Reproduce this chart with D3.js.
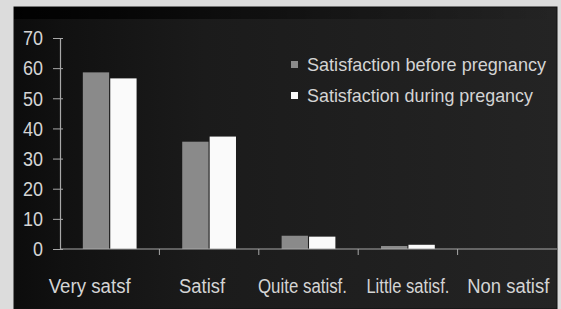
<!DOCTYPE html>
<html>
<head>
<meta charset="utf-8">
<script src="https://cdn.jsdelivr.net/npm/d3@7/dist/d3.min.js"></script>
<style>
  html, body { margin: 0; padding: 0; background: #dcdcdc; }
  svg { display: block; }
  text { font-family: "Liberation Sans", Arial, sans-serif; fill: #d4d4d4; }
</style>
</head>
<body>
<svg id="chart" width="561" height="309"></svg>
<script>
const categories = ["Very satsf", "Satisf", "Quite satisf.", "Little satisf.", "Non satisf"];
const seriesNames = ["Satisfaction before pregnancy", "Satisfaction during pregancy"];
const beforeValues = [58.6, 35.6, 4.4, 1.0, 0];
const duringValues = [56.6, 37.3, 4.1, 1.4, 0];
const yTicks = [0, 10, 20, 30, 40, 50, 60, 70];

const svg = d3.select("#chart");
const W = 561, H = 309;

// panel background
const defs = svg.append("defs");
const g1 = defs.append("linearGradient").attr("id", "bgH").attr("x1", 0).attr("x2", 1).attr("y1", 0).attr("y2", 0);
g1.append("stop").attr("offset", "0").attr("stop-color", "#0c0c0c");
g1.append("stop").attr("offset", "0.09").attr("stop-color", "#111");
g1.append("stop").attr("offset", "0.35").attr("stop-color", "#1b1b1b");
g1.append("stop").attr("offset", "1").attr("stop-color", "#242424");
const g2 = defs.append("linearGradient").attr("id", "bgTop").attr("x1", 0).attr("x2", 1).attr("y1", 0).attr("y2", 0);
g2.append("stop").attr("offset", "0").attr("stop-color", "#000").attr("stop-opacity", 0.9);
g2.append("stop").attr("offset", "0.6").attr("stop-color", "#000").attr("stop-opacity", 0.3);
g2.append("stop").attr("offset", "1").attr("stop-color", "#000").attr("stop-opacity", 0);

svg.append("rect").attr("x", 14).attr("y", 7).attr("width", 543).attr("height", H - 7)
  .attr("fill", "url(#bgH)").attr("stroke", "#111").attr("stroke-width", 1);
svg.append("rect").attr("x", 14).attr("y", 7).attr("width", 543).attr("height", 12)
  .attr("fill", "url(#bgTop)");

const margin = { left: 60, right: 557, top: 38, bottom: 249 };

const y = d3.scaleLinear().domain([0, 70]).range([margin.bottom, margin.top]);
const x0 = d3.scaleBand().domain(categories).range([margin.left, margin.right])
  .paddingInner(0.437).paddingOuter(0.2185);
const x1 = d3.scaleBand().domain(seriesNames).range([0, x0.bandwidth()]).padding(0.04);
const color = d3.scaleOrdinal().domain(seriesNames).range(["#8a8a8a", "#fafafa"]);

const data = categories.map((c, i) => ({ cat: c, vals: [beforeValues[i], duringValues[i]] }));

// bars
const groups = svg.append("g").selectAll("g").data(data).join("g")
  .attr("transform", d => `translate(${x0(d.cat)},0)`);
groups.selectAll("rect").data(d => d.vals.map((v, k) => ({ name: seriesNames[k], v })))
  .join("rect")
  .attr("x", d => x1(d.name))
  .attr("width", x1.bandwidth())
  .attr("y", d => y(d.v))
  .attr("height", d => y(0) - y(d.v))
  .attr("fill", d => color(d.name));

// y axis
const yAxis = d3.axisLeft(y).tickValues(yTicks).tickSize(7).tickSizeInner(7).tickPadding(10);
const yg = svg.append("g").attr("transform", `translate(${margin.left},0)`).call(yAxis);
yg.select(".domain").attr("stroke", "#a8a8a8").attr("stroke-width", 1.2);
yg.selectAll(".tick line").attr("stroke", "#a8a8a8").attr("x1", 3);
yg.selectAll(".tick text").attr("font-size", 20).attr("fill", "#d4d4d4")
  .attr("font-family", "'Liberation Sans Narrow', 'Liberation Sans', Arial, sans-serif")
  .attr("dy", "0.34em")
  .each(function(d) {
    const w = String(d).length * 10;
    d3.select(this).attr("textLength", w).attr("lengthAdjust", "spacingAndGlyphs");
  });

// x axis baseline and boundary ticks
const xg = svg.append("g");
xg.append("line").attr("x1", margin.left).attr("x2", margin.right)
  .attr("y1", y(0)).attr("y2", y(0)).attr("stroke", "#a8a8a8").attr("stroke-width", 1.2);
const bounds = categories.slice(1).map(c => x0(c) - x0.step() * x0.paddingInner() / 2);
xg.selectAll("line.bt").data(bounds).join("line").attr("class", "bt")
  .attr("x1", d => d).attr("x2", d => d).attr("y1", y(0)).attr("y2", y(0) + 6)
  .attr("stroke", "#a8a8a8");

// x labels
const labelNudge = [-20, -7, -6, 0, 1];
const labelWidth = [82, 46, 89, 83, 82];
xg.selectAll("text.xl").data(categories).join("text").attr("class", "xl")
  .attr("x", (d, i) => x0(d) + x0.bandwidth() / 2 + labelNudge[i])
  .attr("y", 293)
  .attr("text-anchor", "middle")
  .attr("font-size", 20)
  .attr("font-family", "'Liberation Sans Narrow', 'Liberation Sans', Arial, sans-serif")
  .attr("textLength", (d, i) => labelWidth[i])
  .attr("lengthAdjust", "spacingAndGlyphs")
  .text(d => d);

// legend
const legendWidth = [239, 226];
const lg = svg.append("g").selectAll("g").data(seriesNames).join("g")
  .attr("transform", (d, i) => `translate(291,${64.5 + i * 31})`);
lg.append("rect").attr("x", 0).attr("y", -3.5).attr("width", 7).attr("height", 7)
  .attr("fill", d => color(d));
lg.append("text").attr("x", 16).attr("y", 6.5)
  .attr("font-size", 19)
  .attr("font-family", "'Liberation Sans Narrow', 'Liberation Sans', Arial, sans-serif")
  .attr("textLength", (d, i) => legendWidth[i])
  .attr("lengthAdjust", "spacingAndGlyphs")
  .text(d => d);
</script>
</body>
</html>
